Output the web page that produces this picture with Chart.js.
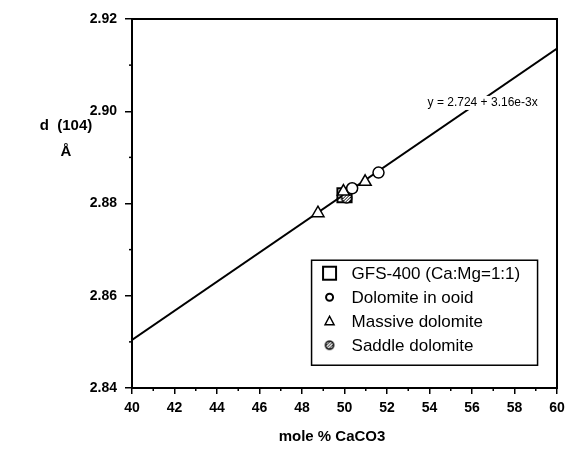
<!DOCTYPE html>
<html><head><meta charset="utf-8">
<script src="https://cdn.jsdelivr.net/npm/chart.js@4/dist/chart.umd.min.js"></script>
<style>html,body{margin:0;padding:0;background:#fff}#wrap{width:569px;height:453px;position:relative}</style>
</head><body><div id="wrap"><canvas id="c" width="569" height="453"></canvas></div>
<script>
// ---- data ----
const xTickValues = [40, 42, 44, 46, 48, 50, 52, 54, 56, 58, 60];
const yTickValues = [2.84, 2.86, 2.88, 2.90, 2.92];
const fitX = [40, 60];
const fitY = [2.8504, 2.9136];
const gfsX = [50.0];
const gfsY = [2.8818];
const ooidX = [50.36, 51.6];
const ooidY = [2.8833, 2.8867];
const massiveX = [48.75, 50.97, 49.95];
const massiveY = [2.8779, 2.8847, 2.8826];
const saddleX = [50.1];
const saddleY = [2.8812];
const seriesLabels = ['GFS-400 (Ca:Mg=1:1)', 'Dolomite in ooid', 'Massive dolomite', 'Saddle dolomite'];
const equationText = 'y = 2.724 + 3.16e-3x';
const equationAt = [56.5, 2.9018];
const legendAt = [48.45, 2.8677];
const xTitle = 'mole % CaCO3';
const yTitleLines = ['d  (104)', 'Å'];

const FONT = '"Liberation Sans", Arial, Helvetica, sans-serif';
const pts = (xs, ys) => xs.map((x, i) => ({x, y: ys[i]}));

function saddleCanvas(r) {
  const s = Math.ceil(r * 2 + 4);
  const c = document.createElement('canvas');
  c.width = s; c.height = s;
  const g = c.getContext('2d');
  const m = s / 2;
  g.fillStyle = '#fff';
  g.beginPath(); g.arc(m, m, r, 0, Math.PI * 2); g.fill();
  g.save(); g.beginPath(); g.arc(m, m, r, 0, Math.PI * 2); g.clip();
  g.strokeStyle = '#000'; g.lineWidth = 1;
  for (let k = -2; k <= 2; k++) {
    g.beginPath(); g.moveTo(m - r + k * 3, m + r); g.lineTo(m + r + k * 3, m - r); g.stroke();
  }
  g.restore();
  g.lineWidth = 1.6; g.strokeStyle = '#000';
  g.beginPath(); g.arc(m, m, r, 0, Math.PI * 2); g.stroke();
  return c;
}
const saddleImg = saddleCanvas(5);
const saddleLegendImg = saddleCanvas(4);

const data = {
  datasets: [
    {type: 'line', label: 'fit', data: pts(fitX, fitY), borderColor: '#000', borderWidth: 2,
     pointRadius: 0, fill: false, order: 5},
    {label: seriesLabels[0], data: pts(gfsX, gfsY), pointStyle: 'rect', pointRadius: 10,
     borderColor: '#000', backgroundColor: 'rgba(255,255,255,0)', borderWidth: 2, order: 4},
    {label: seriesLabels[1], data: pts(ooidX, ooidY), pointStyle: 'circle', pointRadius: 5.5,
     borderColor: '#000', backgroundColor: '#fff', borderWidth: 1.5, order: 1},
    {label: seriesLabels[2], data: pts(massiveX, massiveY), pointStyle: 'triangle', pointRadius: 7,
     borderColor: '#000', backgroundColor: '#fff', borderWidth: 1.5, order: 2},
    {label: seriesLabels[3], data: pts(saddleX, saddleY), pointStyle: saddleImg, pointRadius: 5,
     borderColor: '#000', backgroundColor: '#fff', borderWidth: 1.5, order: 3}
  ]
};

const extras = {
  id: 'extras',
  afterDatasetsDraw(chart) {
    const {ctx, chartArea: a, scales: {x, y}} = chart;
    ctx.save();
    // frame
    ctx.strokeStyle = '#000'; ctx.lineWidth = 2;
    ctx.strokeRect(a.left, a.top, a.right - a.left, a.bottom - a.top);
    // minor ticks
    ctx.lineWidth = 1.5;
    for (let v = x.min + 1; v < x.max; v += 2) {
      const px = x.getPixelForValue(v);
      ctx.beginPath(); ctx.moveTo(px, a.bottom); ctx.lineTo(px, a.bottom + 3); ctx.stroke();
    }
    for (let v = y.min + 0.01; v < y.max - 0.001; v += 0.02) {
      const py = y.getPixelForValue(v);
      ctx.beginPath(); ctx.moveTo(a.left, py); ctx.lineTo(a.left - 3, py); ctx.stroke();
    }
    // equation
    ctx.font = '12px ' + FONT;
    ctx.textAlign = 'center'; ctx.textBaseline = 'middle';
    const ex = x.getPixelForValue(equationAt[0]), ey = y.getPixelForValue(equationAt[1]);
    const tw = ctx.measureText(equationText).width;
    ctx.fillStyle = '#fff';
    ctx.fillRect(ex - tw / 2 - 2, ey - 7, tw + 4, 14);
    ctx.fillStyle = '#000';
    ctx.fillText(equationText, ex, ey);
    // legend
    const lx = x.getPixelForValue(legendAt[0]), ly = y.getPixelForValue(legendAt[1]);
    const lw = 226, lh = 105, rowH = 24;
    ctx.fillStyle = '#fff'; ctx.fillRect(lx, ly, lw, lh);
    ctx.strokeStyle = '#000'; ctx.lineWidth = 1.5; ctx.strokeRect(lx, ly, lw, lh);
    ctx.font = '17px ' + FONT; ctx.textAlign = 'left'; ctx.textBaseline = 'middle';
    chart.data.datasets.slice(1).forEach((ds, i) => {
      const cy = ly + 13 + i * rowH, cx = lx + 18;
      ctx.strokeStyle = '#000'; ctx.fillStyle = '#fff';
      if (i === 0) {
        ctx.lineWidth = 2; ctx.strokeRect(cx - 6.5, cy - 6.5, 13, 13);
      } else if (i === 1) {
        ctx.lineWidth = 2; ctx.beginPath(); ctx.arc(cx, cy, 3.5, 0, Math.PI * 2); ctx.stroke();
      } else if (i === 2) {
        ctx.lineWidth = 1.5; ctx.beginPath();
        ctx.moveTo(cx, cy - 5); ctx.lineTo(cx + 4.5, cy + 3.5); ctx.lineTo(cx - 4.5, cy + 3.5); ctx.closePath(); ctx.stroke();
      } else {
        ctx.drawImage(saddleLegendImg, cx - saddleLegendImg.width / 2, cy - saddleLegendImg.height / 2);
      }
      ctx.fillStyle = '#000';
      ctx.fillText(ds.label, lx + 40, cy + 1);
    });
    // axis titles
    ctx.font = 'bold 15px ' + FONT; ctx.textAlign = 'center';
    ctx.fillText(yTitleLines[0], 66, 126);
    ctx.fillText(yTitleLines[1], 66, 152);
    ctx.fillText(xTitle, 332, 437);
    ctx.restore();
  }
};

new Chart(document.getElementById('c'), {
  type: 'scatter',
  data,
  options: {
    responsive: false,
    animation: false,
    devicePixelRatio: 1,
    layout: {padding: {top: 19, right: 11, left: 0, bottom: 0}},
    plugins: {legend: {display: false}, tooltip: {enabled: false}},
    scales: {
      x: {
        type: 'linear', min: 40, max: 60,
        afterFit(s) { s.height = 65; s.paddingRight = 0; s.paddingLeft = 0; },
        afterBuildTicks(s) { s.ticks = xTickValues.map(v => ({value: v})); },
        ticks: {color: '#000', font: {family: FONT, size: 14, weight: 'bold'}, padding: 6,
                maxRotation: 0, callback: v => String(v)},
        grid: {drawOnChartArea: false, drawTicks: true, tickLength: 6, color: '#000', lineWidth: 1.5},
        border: {display: true, color: '#000', width: 2},
        title: {display: false, text: xTitle}
      },
      y: {
        type: 'linear', min: 2.84, max: 2.92,
        afterFit(s) { s.width = 132; s.paddingTop = 0; s.paddingBottom = 0; },
        afterBuildTicks(s) { s.ticks = yTickValues.map(v => ({value: v})); },
        ticks: {color: '#000', font: {family: FONT, size: 14, weight: 'bold'}, padding: 8,
                callback: v => Number(v).toFixed(2)},
        grid: {drawOnChartArea: false, drawTicks: true, tickLength: 7, color: '#000', lineWidth: 1.5},
        border: {display: true, color: '#000', width: 2}
      }
    }
  },
  plugins: [extras]
});
</script>
</body></html>
